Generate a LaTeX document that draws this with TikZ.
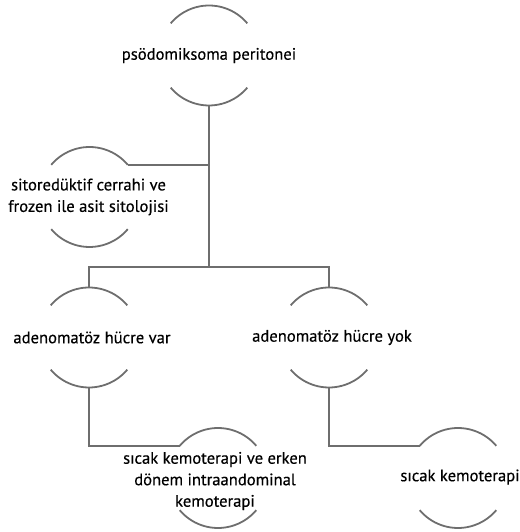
\documentclass[tikz,border=0pt]{standalone}
\usepackage{fontspec}
\setmainfont[FakeBold=0.4]{PT Sans}
\definecolor{linegray}{HTML}{6E6E6E}
\tikzset{
    ring/.style={circle, minimum size=100pt, inner sep=0pt, outer sep=0pt},
    lbl/.style={align=center, font=\fontsize{16.6}{21.5}\selectfont},
    link/.style={draw=linegray, line width=1.8pt}
}
\begin{document}
\begin{tikzpicture}[x=1pt, y=1pt]
                \useasboundingbox (0,0) rectangle (519,532);
                \node[ring] (p) at (209,476.5) {};
                \node[ring] (s) at (89.5,335) {};
                \node[ring] (a) at (89,194.5) {};
                \node[ring] (b) at (329,194.5) {};
                \node[ring] (c) at (218,54) {};
                \node[ring] (d) at (458,54) {};
                \coordinate (fork) at (209,265);
                \foreach \n in {p,s,a,b,c,d}
                {
                    \draw[link] (\n.40) arc[start angle=40, end angle=140, radius=50pt];
                    \draw[link] (\n.220) arc[start angle=220, end angle=320, radius=50pt];
                }
                \draw[link] (p.south) -- (fork);
                \draw[link] (s.40) -- (s.40 -| p.south);
                \draw[link] (a.north) |- (fork) -| (b.north);
                \draw[link] (a.south) |- (c.140);
                \draw[link] (b.south) |- (d.140);
                \node[lbl] (pt) at (p) {psödomiksoma peritonei};
                \node[lbl] (st) at ([xshift=-1pt]s) {sitoredüktif cerrahi ve\\frozen ile asit sitolojisi};
                \node[lbl] (at) at ([xshift=3pt]a) {adenomatöz hücre var};
                \node[lbl] (bt) at ([xshift=3pt]b) {adenomatöz hücre yok};
                \node[lbl] (ct) at ([xshift=-3pt,yshift=-3pt]c) {sıcak kemoterapi ve erken\\dönem intraandominal\\kemoterapi};
                \node[lbl] (dt) at ([xshift=2pt,yshift=1pt]d) {sıcak kemoterapi};
\end{tikzpicture}
\end{document}
